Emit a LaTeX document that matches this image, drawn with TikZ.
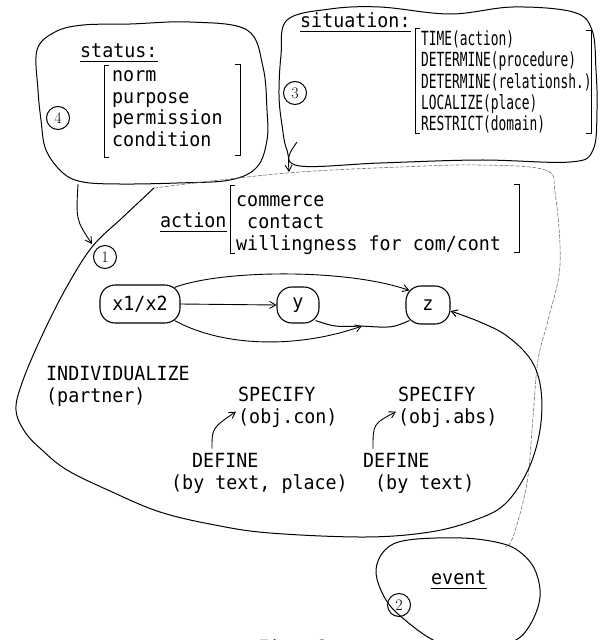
\documentclass[tikz,border=0pt]{standalone}
\usepackage{fontspec}
\newfontfamily\tw[FakeStretch=0.94]{DejaVu Sans Mono}
\newfontfamily\twc[FakeStretch=0.66]{DejaVu Sans Mono}
\usetikzlibrary{arrows.meta,calc}
\tikzset{
  blob/.style={draw, line width=1pt, line join=round},
  faint/.style={draw=black!55, line width=0.6pt, dash pattern=on 4pt off 1.5pt},
  txt/.style={font=\tw\fontsize{19.5}{21.5}\selectfont, inner sep=0pt, anchor=base west},
  stxt/.style={font=\twc\fontsize{19.5}{21.5}\selectfont, inner sep=0pt, anchor=base west},
  num/.style={draw, circle, line width=1pt, minimum size=23pt, inner sep=0pt, font=\fontsize{16}{16}\selectfont},
  obj/.style={draw, rounded corners=15pt, line width=1.1pt, inner sep=0pt, font=\tw\fontsize{19.5}{21.5}\selectfont},
  arr/.style={line width=0.9pt, -{Straight Barb[length=6pt,width=7pt]}},
  brk/.style={line width=1pt},
  uline/.style={line width=0.9pt}
}
\begin{document}
\begin{tikzpicture}[x=1pt,y=-1pt]
\fill[white] (0,0) rectangle (600,640);
\useasboundingbox (0,0) rectangle (600,640);

% ---- status blob (4)
\draw[blob] plot[smooth cycle, tension=0.6] coordinates {(37,50) (55,32) (83,25) (130,24) (190,22) (247,30) (263,67) (267,110) (267,140) (257,167) (230,180) (177,183) (120,184) (83,182) (63,173) (46,150) (41,120) (38,90)};
\node[num] (c4) at (58,118) {4};
\node[txt] (status) at (80,57) {status:};
\draw[uline] ($(status.base west)+(0,4)$) -- ($(status.base east)+(0,4)$);
\node[txt] (s1) at (112,81) {norm};
\node[txt] (s2) at (112,103) {purpose};
\node[txt] (s3) at (112,124) {permission};
\node[txt] (s4) at (112,146) {condition};
\draw[brk] (109,65) -- (104,65) -- (104,157) -- (109,157);
\draw[brk] (235,64) -- (240,64) -- (240,155) -- (235,155);

% ---- situation blob (3)
\draw[blob] plot[smooth cycle, tension=0.6] coordinates {(287,20) (330,9) (380,7) (450,14) (513,7) (573,12) (592,30) (596,70) (597,110) (593,150) (570,162) (480,160) (380,163) (300,166) (287,150) (282,125) (279,95) (281,55)};
\node[num] (c3) at (295,93) {3};
\node[txt] (situation) at (300,27) {situation:};
\draw[uline] ($(situation.base west)+(0,4)$) -- ($(situation.base east)+(0,4)$);
\node[stxt] (t1) at (421,45) {TIME(action)};
\node[stxt] (t2) at (421,66) {DETERMINE(procedure)};
\node[stxt] (t3) at (421,88) {DETERMINE(relationsh.)};
\node[stxt] (t4) at (421,109) {LOCALIZE(place)};
\node[stxt] (t5) at (421,130) {RESTRICT(domain)};
\draw[brk] (420,28) -- (415,28) -- (415,133) -- (420,133);
\draw[brk] (586,30) -- (591,30) -- (591,133) -- (586,133);

% ---- main blob (1)
\coordinate (mtop) at (154,188);
\draw[faint] plot[smooth, tension=0.6] coordinates {(mtop) (220,180) (300,172) (400,167) (480,165) (545,170) (555,192) (560,265) (548,320) (538,360) (533,417) (527,483) (513,537) (505,547)};

% objects
\node[obj, minimum width=80pt, minimum height=38pt] (x) at (140,304) {x1/x2};
\node[obj, minimum width=42pt, minimum height=36pt] (y) at (298,305) {y};
\node[obj, minimum width=44pt, minimum height=38pt] (z) at (428,305) {z};
\coordinate (m) at (362,326);

\draw[blob,-{Straight Barb[length=6pt,width=7pt]}] plot[smooth, tension=0.6] coordinates {(mtop) (122,218) (92,247) (65,290) (40,340) (22,383) (16,410) (25,432) (42,450) (67,470) (110,491) (160,512) (215,525) (270,533) (365,537) (430,532) (475,520) (505,504) (528,470) (540,430) (541,390) (531,360) (507,336) (480,322) (z.-15)};

\node[num] (c1) at (105,257) {1};

\node[txt] (action) at (160,227) {action};
\draw[uline] ($(action.base west)+(0,4)$) -- ($(action.base east)+(0,4)$);
\node[txt] (a1) at (236,206) {commerce};
\node[txt] (a2) at (236,228) {\ contact};
\node[txt] (a3) at (236,250) {willingness for com/cont};
\draw[brk] (235,185) -- (230,185) -- (230,253) -- (235,253);
\draw[brk] (514,184) -- (519,184) -- (519,252) -- (514,252);

\draw[arr] (x.east) -- (y.west);
\draw[arr] ([xshift=-6pt,yshift=-3pt]x.north east) .. controls (220,270) and (345,268) .. ([xshift=4pt,yshift=-5pt]z.north west);
\draw[arr] ([xshift=-6pt,yshift=3pt]x.south east) .. controls (225,348) and (300,348) .. (m);
\draw[line width=1pt] ([xshift=-4pt,yshift=3pt]y.south east) .. controls (335,327) .. (m) .. controls (392,328) .. ([xshift=4pt,yshift=4pt]z.south west);

\node[txt] (ind) at (46,380) {INDIVIDUALIZE};
\node[txt] (partner) at (46,402) {(partner)};
\node[txt] (spec1) at (238,401) {SPECIFY};
\node[txt] (obj1) at (238,423) {(obj.con)};
\node[txt] (spec2) at (398,401) {SPECIFY};
\node[txt] (obj2) at (398,423) {(obj.abs)};
\node[txt] (def1) at (192,467) {DEFINE};
\node[txt] (bt1) at (171,489) {(by text, place)};
\node[txt] (def2) at (363,467) {DEFINE};
\node[txt] (bt2) at (375,489) {(by text)};
\draw[arr] ([xshift=20pt,yshift=4pt]def1.north west) .. controls (212,428) .. ([xshift=-2pt,yshift=6pt]obj1.west);
\draw[arr] ([xshift=10pt,yshift=4pt]def2.north west) .. controls (373,424) .. ([xshift=-2pt,yshift=6pt]obj2.west);

% ---- connections from status and situation
\coordinate (sb) at (78,184);
\coordinate (sa) at (92,244);
\draw[arr] (sb) .. controls (76,220) .. (sa);
\coordinate (tb) at (297,142);
\coordinate (ta) at (289,172);
\draw[arr] (tb) .. controls (288,155) .. (ta);

% ---- event blob (2)
\draw[blob] plot[smooth cycle, tension=0.6] coordinates {(408,540) (462,538) (500,543) (520,552) (535,570) (540,597) (530,625) (512,642) (470,652) (435,641) (405,620) (386,600) (376,572) (385,550)};
\node[num] (c2) at (399,605) {2};
\node[txt] (event) at (431,584) {event};
\draw[uline] ($(event.base west)+(0,4)$) -- ($(event.base east)+(0,4)$);

\node[txt] (fig) at (258,654) {Fig. 2};
\end{tikzpicture}
\end{document}
